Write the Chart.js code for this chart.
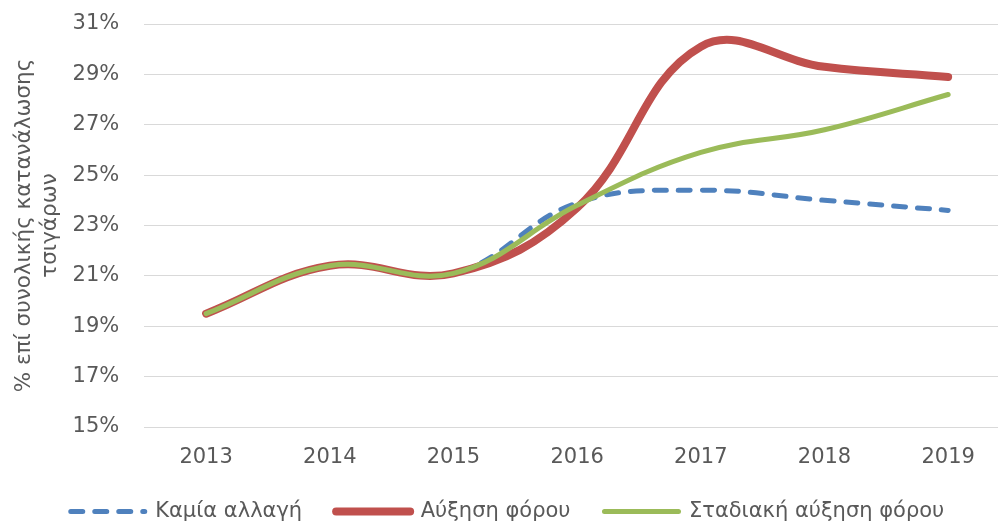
<!DOCTYPE html>
<html>
<head>
<meta charset="utf-8">
<script src="https://cdn.jsdelivr.net/npm/chart.js@4/dist/chart.umd.min.js"></script>
<style>
    html, body { margin: 0; padding: 0; overflow: hidden; background: #fff; }
    #wrap { position: absolute; left: 0; top: 0; width: 1010px; height: 532px; }
</style>
</head>
<body>
<div id="wrap"><canvas id="myChart" width="1010" height="532"></canvas></div>
<script>
const years = ['2013', '2014', '2015', '2016', '2017', '2018', '2019'];
const noChange = [19.5, 21.4, 21.1, 23.9, 24.4, 24.0, 23.6];
const taxRise = [19.5, 21.4, 21.1, 23.7, 30.1, 29.3, 28.9];
const gradualRise = [19.5, 21.4, 21.1, 23.8, 25.9, 26.8, 28.2];
const yTicks = [15, 17, 19, 21, 23, 25, 27, 29, 31];

const textColor = '#595959';
const fontFamily = "'DejaVu Sans', sans-serif";

const ctx = document.getElementById('myChart');

new Chart(ctx, {
    type: 'line',
    data: {
        labels: years,
        datasets: [{
            label: 'Καμία αλλαγή',
            data: noChange,
            borderColor: '#4F81BD',
            backgroundColor: '#4F81BD',
            borderWidth: 5,
            borderDash: [12, 12],
            borderCapStyle: 'round',
            order: 3
        }, {
            label: 'Αύξηση φόρου',
            data: taxRise,
            borderColor: '#C0504D',
            backgroundColor: '#C0504D',
            borderWidth: 8,
            borderCapStyle: 'round',
            order: 2
        }, {
            label: 'Σταδιακή αύξηση φόρου',
            data: gradualRise,
            borderColor: '#9BBB59',
            backgroundColor: '#9BBB59',
            borderWidth: 5,
            borderCapStyle: 'round',
            order: 1
        }]
    },
    options: {
        responsive: false,
        animation: false,
        devicePixelRatio: 1,
        layout: {
            padding: { left: 5, top: 24, right: 0, bottom: 0 }
        },
        elements: {
            point: { radius: 0 },
            line: { tension: 0.4, fill: false }
        },
        scales: {
            x: {
                offset: true,
                grid: { display: false, drawTicks: false },
                border: { display: false },
                ticks: {
                    color: textColor,
                    padding: 18,
                    font: { family: fontFamily, size: 21 }
                },
                // tick padding counts twice in the axis height; keep just enough room
                afterFit: (axis) => {
                    axis.height = 40;
                }
            },
            y: {
                min: 15,
                max: 31,
                afterBuildTicks: (axis) => {
                    axis.ticks = yTicks.map(v => ({ value: v }));
                },
                grid: {
                    color: '#D9D9D9',
                    lineWidth: 1,
                    drawTicks: true,
                    tickLength: 17,
                    tickColor: 'rgba(0,0,0,0)'
                },
                border: { display: false },
                ticks: {
                    color: textColor,
                    padding: 8,
                    font: { family: fontFamily, size: 21 },
                    callback: (v) => v + '%'
                },
                title: {
                    display: true,
                    text: ['% επί συνολικής κατανάλωσης', 'τσιγάρων'],
                    color: textColor,
                    padding: { top: 7, bottom: 1 },
                    font: { family: fontFamily, size: 21.5 }
                }
            }
        },
        plugins: {
            tooltip: { enabled: false },
            legend: {
                position: 'bottom',
                labels: {
                    usePointStyle: true,
                    pointStyle: 'line',
                    pointStyleWidth: 74,
                    padding: 34,
                    color: textColor,
                    font: { family: fontFamily, size: 21 },
                    sort: (a, b) => a.datasetIndex - b.datasetIndex,
                    // point style drops the dash, so copy the line style back in
                    generateLabels: (chart) => {
                        const items = Chart.defaults.plugins.legend.labels.generateLabels(chart);
                        items.forEach(item => {
                            const ds = chart.data.datasets[item.datasetIndex];
                            item.lineDash = ds.borderDash || [];
                            item.lineCap = ds.borderCapStyle;
                            item.lineWidth = ds.borderWidth;
                        });
                        return items;
                    }
                }
            }
        }
    }
});
</script>
</body>
</html>
